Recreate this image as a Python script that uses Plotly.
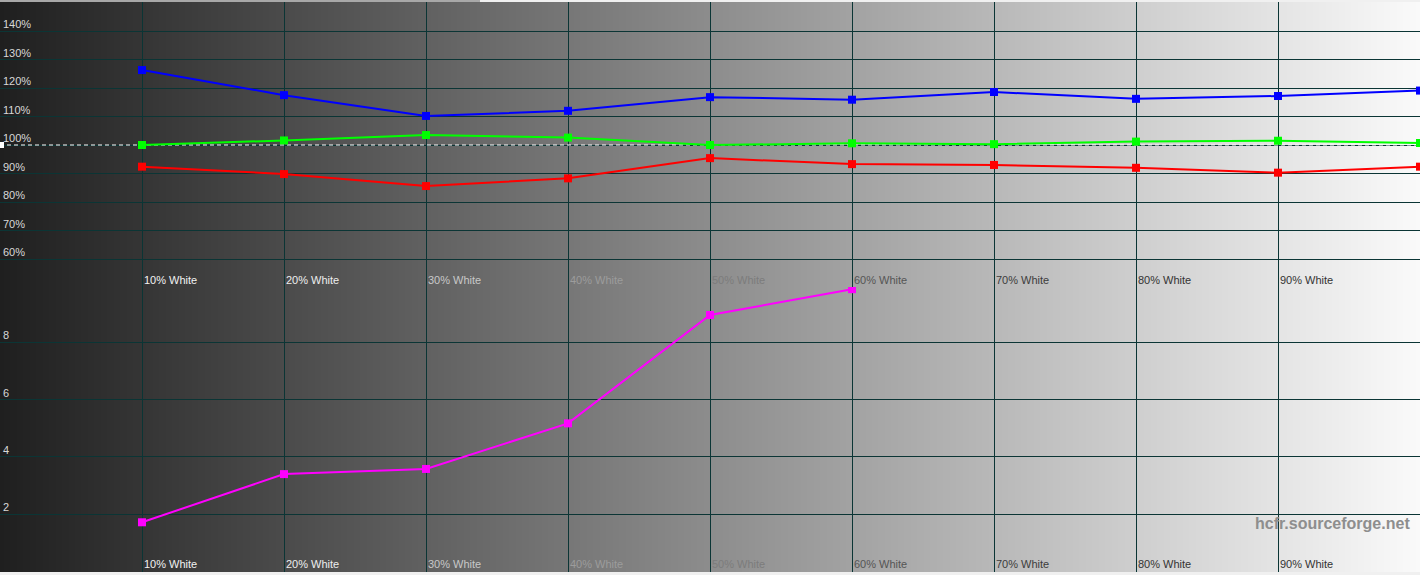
import base64
import struct
import zlib

import plotly.graph_objects as go

# ---------------- data ----------------
levels = [10, 20, 30, 40, 50, 60, 70, 80, 90, 100]
red_pct = [92.4, 89.8, 85.6, 88.3, 95.4, 93.3, 93.0, 92.0, 90.3, 92.4]
green_pct = [100.0, 101.6, 103.5, 102.6, 100.0, 100.6, 100.3, 101.2, 101.5, 100.7]
blue_pct = [126.3, 117.5, 110.2, 112.0, 116.8, 115.9, 118.6, 116.2, 117.2, 119.1]

de_levels = [10, 20, 30, 40, 50, 60]
delta_e = [1.72, 3.40, 3.58, 5.17, 8.95, 9.85]

top_ticks = [60, 70, 80, 90, 100, 110, 120, 130, 140]
top_tick_labels = ["60%", "70%", "80%", "90%", "100%", "110%", "120%", "130%", "140%"]
bottom_ticks = [2, 4, 6, 8]
bottom_tick_labels = ["2", "4", "6", "8"]
x_grid = [10, 20, 30, 40, 50, 60, 70, 80, 90]
x_labels = ["10% White", "20% White", "30% White", "40% White", "50% White",
            "60% White", "70% White", "80% White", "90% White"]
x_label_colors = ["#f2f2f2", "#eeeeee", "#c8c8c8", "#9c9c9c", "#7c7c7c",
                  "#555555", "#3c3c3c", "#333333", "#333333"]

W, H = 1420, 575


def py(p):
    """pixel row -> paper fraction"""
    return 1 - p / H


# ---------------- background gradient image ----------------
def gray_png(values, rows=2):
    w = len(values)
    raw = b"".join(b"\x00" + bytes(values) for _ in range(rows))

    def chunk(t, d):
        c = struct.pack(">I", len(d)) + t + d
        return c + struct.pack(">I", zlib.crc32(t + d) & 0xFFFFFFFF)

    ihdr = struct.pack(">IIBBBBB", w, rows, 8, 0, 0, 0, 0)
    return (b"\x89PNG\r\n\x1a\n" + chunk(b"IHDR", ihdr)
            + chunk(b"IDAT", zlib.compress(raw)) + chunk(b"IEND", b""))


g0, g1 = 0x1F, 0xFA
grad = [int(round(g0 + (g1 - g0) * i / (W - 1))) for i in range(W)]
img_src = "data:image/png;base64," + base64.b64encode(gray_png(grad)).decode()

# ---------------- figure ----------------
fig = go.Figure()

line_w = 2
msize = 8

# 100% reference dashed line (drawn first, under the series)
fig.add_trace(go.Scatter(x=[0, 100], y=[100, 100], mode="lines",
                         line=dict(color="white", width=1, dash="4px,3px"),
                         xaxis="x", yaxis="y", hoverinfo="skip", showlegend=False))

for vals, col in [(red_pct, "#ff0000"), (green_pct, "#00ff00"), (blue_pct, "#0000ff")]:
    fig.add_trace(go.Scatter(x=levels, y=vals, mode="lines+markers",
                             line=dict(color=col, width=line_w),
                             marker=dict(symbol="square", size=msize, color=col),
                             xaxis="x", yaxis="y", showlegend=False))

fig.add_trace(go.Scatter(x=de_levels, y=delta_e, mode="lines+markers",
                         line=dict(color="#ff00ff", width=line_w),
                         marker=dict(symbol="square", size=msize, color="#ff00ff"),
                         xaxis="x2", yaxis="y2", showlegend=False))

grid_col = "#0b3535"
grid_w = 1.3
xcommon = dict(range=[0, 100], tickvals=x_grid, showticklabels=False, showgrid=True,
               gridcolor=grid_col, gridwidth=grid_w, zeroline=False, showline=False, ticks="")

top_dom = [py(287), py(2)]
bot_dom = [py(572), py(287)]

fig.update_layout(
    width=W, height=H,
    margin=dict(l=0, r=0, t=0, b=0),
    paper_bgcolor="#f0f0f0",
    plot_bgcolor="rgba(0,0,0,0)",
    xaxis=dict(domain=[0, 1], anchor="y", **xcommon),
    yaxis=dict(domain=top_dom, anchor="x", range=[50.18, 150.18], tickvals=top_ticks,
               showticklabels=False, showgrid=True, gridcolor=grid_col, gridwidth=grid_w,
               zeroline=False, showline=False, ticks=""),
    xaxis2=dict(domain=[0, 1], anchor="y2", **xcommon),
    yaxis2=dict(domain=bot_dom, anchor="x2", range=[-0.014, 9.926], tickvals=bottom_ticks,
                showticklabels=False, showgrid=True, gridcolor=grid_col, gridwidth=grid_w,
                zeroline=False, showline=False, ticks=""),
    images=[dict(source=img_src, xref="paper", yref="paper", x=0, y=py(2),
                 sizex=1, sizey=570 / H, xanchor="left", yanchor="top",
                 sizing="stretch", layer="below")],
    font=dict(family="Liberation Sans, Arial, sans-serif", size=11),
    showlegend=False,
)

shapes = [
    # thin gray strip at the top-left edge
    dict(type="rect", xref="paper", yref="paper", x0=0, x1=480 / W, y0=py(2), y1=1,
         fillcolor="#a8a8a8", line=dict(width=0), layer="below"),
    # small white marker at left end of 100% line
    dict(type="rect", xref="paper", yref="paper", x0=0, x1=4 / W, y0=py(148), y1=py(142),
         fillcolor="white", line=dict(width=0)),
]
fig.update_layout(shapes=shapes)

ann = []
lab_font = dict(family="Liberation Sans, Arial, sans-serif", size=11)
for v, t in zip(top_ticks, top_tick_labels):
    ann.append(dict(x=0, xref="paper", y=v, yref="y", text=t, showarrow=False,
                    xanchor="left", yanchor="middle", xshift=1, yshift=7,
                    font=dict(color="#d8d8d8", **lab_font)))
for v, t in zip(bottom_ticks, bottom_tick_labels):
    ann.append(dict(x=0, xref="paper", y=v, yref="y2", text=t, showarrow=False,
                    xanchor="left", yanchor="middle", xshift=1, yshift=7,
                    font=dict(color="#d8d8d8", **lab_font)))
for xv, t, c in zip(x_grid, x_labels, x_label_colors):
    for ypix in (280, 564):
        ann.append(dict(x=xv, xref="x", y=py(ypix), yref="paper", text=t, showarrow=False,
                        xanchor="left", yanchor="middle", xshift=0,
                        font=dict(color=c, **lab_font)))
ann.append(dict(x=1, xref="paper", y=py(523), yref="paper", text="hcfr.sourceforge.net",
                showarrow=False, xanchor="right", yanchor="middle", xshift=-8,
                font=dict(family="Liberation Sans, Arial, sans-serif", size=16,
                          color="#8e8e8e", weight="bold")))
fig.update_layout(annotations=ann)

fig.write_html("out.html", config={"displayModeBar": False},
               post_script="document.body.style.margin='0';document.body.style.overflow='hidden';")
